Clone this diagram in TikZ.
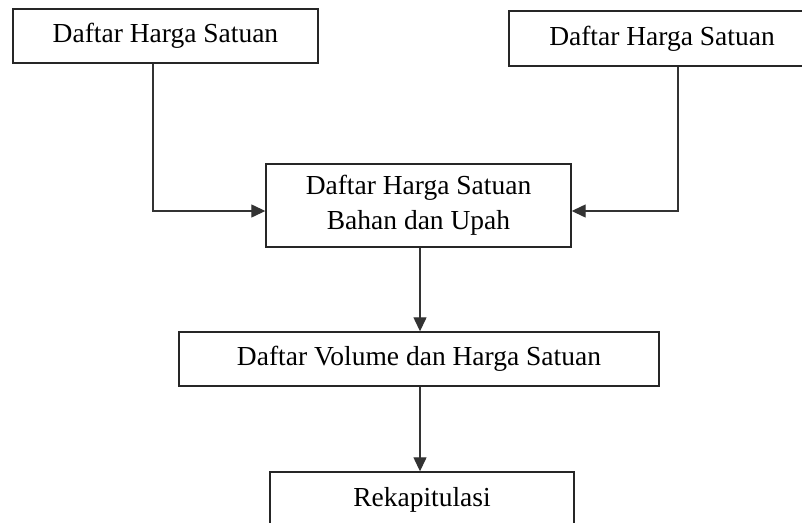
\documentclass[tikz,border=0pt]{standalone}
\usepackage{fontspec}
\setmainfont{Liberation Serif}
\usetikzlibrary{arrows.meta}
\begin{document}
\begin{tikzpicture}[x=1pt,y=-1pt,
  boxnode/.style={draw=black!85, line width=1.4pt, rectangle, inner sep=0pt, align=center,
     font=\fontsize{27.5}{35}\selectfont},
  conn/.style={draw=black!80, line width=1.3pt, -{Triangle[length=14pt,width=13pt]}},
  plain/.style={draw=black!80, line width=1.3pt}]
\useasboundingbox (0,0) rectangle (802,522);
\clip (0,0) rectangle (802,522);
\fill[white] (0,0) rectangle (802,522);
\node[boxnode, minimum width=305pt, minimum height=54pt] (b1) at (165.5,36) {Daftar Harga Satuan};
\node[boxnode, minimum width=306pt, minimum height=55pt] (b2) at (662,38.5) {Daftar Harga Satuan};
\node[boxnode, minimum width=305pt, minimum height=83pt] (b3) at (418.5,205.5) {Daftar Harga Satuan\\Bahan dan Upah};
\node[boxnode, minimum width=480pt, minimum height=54pt] (b4) at (419,359) {Daftar Volume dan Harga Satuan};
\node[boxnode, minimum width=304pt, minimum height=56pt] (b5) at (422,500) {Rekapitulasi};
\coordinate (c1) at (153,211);
\coordinate (c2) at (678,211);
\draw[conn] (b1.south -| c1) -- (c1) -- (c1 -| b3.west);
\draw[conn] (b2.south -| c2) -- (c2) -- (c2 -| b3.east);
\coordinate (c3) at (420,0);
\draw[conn] (b3.south -| c3) -- (b4.north -| c3);
\draw[conn] (b4.south -| c3) -- (b5.north -| c3);
\end{tikzpicture}
\end{document}
